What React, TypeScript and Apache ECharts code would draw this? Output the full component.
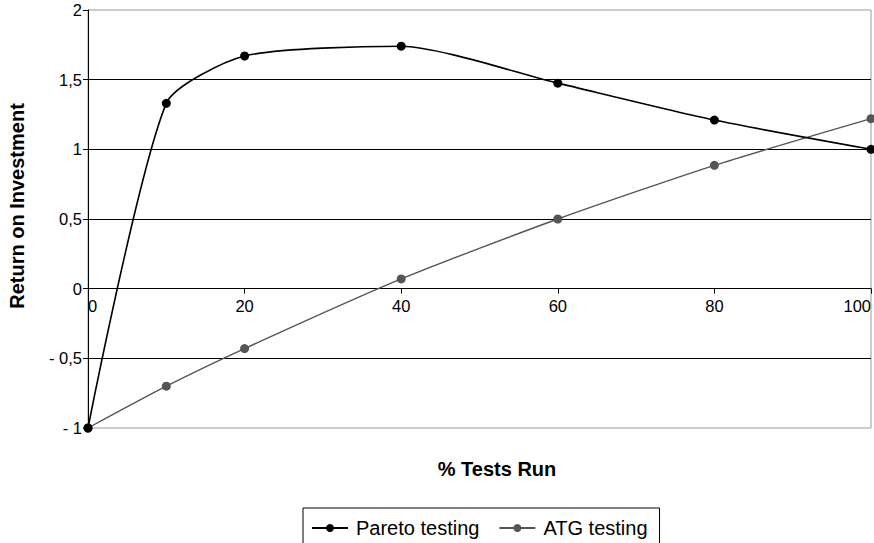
import React, { useEffect, useRef } from "react";
import * as echarts from "echarts";

const xValues = [0, 10, 20, 40, 60, 80, 100];
const paretoValues = [-1, 1.33, 1.67, 1.74, 1.475, 1.21, 1.0];
const atgValues = [-1, -0.7, -0.43, 0.07, 0.5, 0.885, 1.22];
const seriesNames = ["Pareto testing", "ATG testing"];
const xTitle = "% Tests Run";
const yTitle = "Return on Investment";

const FONT = "'Liberation Sans', Arial, sans-serif";

export default function App() {
  const ref = useRef<HTMLDivElement>(null);
  useEffect(() => {
    if (!ref.current) return;
    const chart = echarts.init(ref.current, undefined, { renderer: "svg" });
    const fmtY = (v: number) => {
      const s = String(Math.abs(v)).replace(".", ",");
      return v < 0 ? "- " + s : s;
    };
    chart.setOption({
      animation: false,
      backgroundColor: "#ffffff",
      textStyle: { fontFamily: FONT },
      grid: {
        left: 88,
        right: 1,
        top: 10,
        bottom: 115,
        show: true,
        borderColor: "#9a9a9a",
        borderWidth: 1,
        backgroundColor: "transparent",
      },
      xAxis: {
        type: "value",
        min: 0,
        max: 100,
        interval: 20,
        offset: -139.33,
        axisLine: { show: true, onZero: false, lineStyle: { color: "#000", width: 1 } },
        axisTick: { show: true, inside: false, length: 5, lineStyle: { color: "#000" } },
        axisLabel: {
          color: "#000",
          fontSize: 16.5,
          fontFamily: FONT,
          margin: 9,
          alignMinLabel: "left",
          alignMaxLabel: "right",
        },
        splitLine: { show: false },
      },
      yAxis: {
        type: "value",
        min: -1,
        max: 2,
        interval: 0.5,
        axisLine: { show: true, onZero: false, lineStyle: { color: "#000", width: 1 } },
        axisTick: { show: true, inside: false, length: 5, lineStyle: { color: "#000" } },
        axisLabel: {
          color: "#000",
          fontSize: 16.5,
          fontFamily: FONT,
          margin: 6,
          formatter: fmtY,
        },
        splitLine: {
          show: true,
          showMinLine: false,
          showMaxLine: false,
          lineStyle: { color: "#000", width: 1 },
        },
      },
      legend: {
        show: true,
        left: 303,
        top: 508,
        padding: [10, 12, 10, 8],
        borderColor: "#000",
        borderWidth: 1,
        itemWidth: 36,
        itemHeight: 10,
        itemGap: 19,
        textStyle: { color: "#000", fontSize: 20, fontFamily: FONT, padding: [0, 0, 0, 3] },
        data: seriesNames,
      },
      graphic: [
        {
          type: "text",
          x: 17,
          y: 206,
          rotation: Math.PI / 2,
          style: {
            text: yTitle,
            fill: "#000",
            font: `bold 20px ${FONT}`,
            textAlign: "center",
            textVerticalAlign: "middle",
          },
        },
        {
          type: "text",
          x: 497,
          y: 469,
          style: {
            text: xTitle,
            fill: "#000",
            font: `bold 20px ${FONT}`,
            textAlign: "center",
            textVerticalAlign: "middle",
          },
        },
      ],
      series: [
        {
          name: seriesNames[0],
          type: "line",
          data: xValues.map((x, i) => [x, paretoValues[i]]),
          smooth: 0.22,
          symbol: "circle",
          symbolSize: 9,
          lineStyle: { color: "#000", width: 1.6 },
          itemStyle: { color: "#000" },
          z: 3,
        },
        {
          name: seriesNames[1],
          type: "line",
          data: xValues.map((x, i) => [x, atgValues[i]]),
          smooth: 0.22,
          symbol: "circle",
          symbolSize: 9,
          lineStyle: { color: "#555", width: 1.4 },
          itemStyle: { color: "#555" },
          z: 2,
        },
      ],
    });
    return () => chart.dispose();
  }, []);
  return (
    <div
      ref={ref}
      style={{ position: "fixed", left: 0, top: 0, width: 874, height: 543, background: "#fff" }}
    />
  );
}
